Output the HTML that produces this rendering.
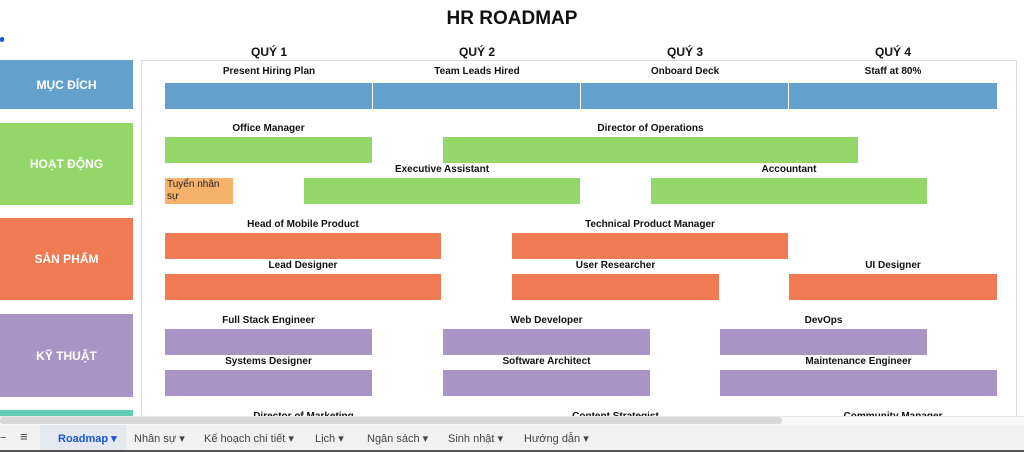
<!DOCTYPE html>
<html><head><meta charset="utf-8"><style>
*{margin:0;padding:0;box-sizing:border-box}
body{width:1024px;height:452px;overflow:hidden;background:#fff;font-family:"Liberation Sans",sans-serif;position:relative}
.a{position:absolute}
.l{position:absolute;left:0;width:133px;color:#fff;font-weight:bold;font-size:12px;display:flex;align-items:center;justify-content:center}
.t{position:absolute;font-size:10px;font-weight:bold;color:#111;text-align:center;white-space:nowrap}
.q{position:absolute;font-size:12px;font-weight:bold;color:#111;text-align:center;width:208px;top:45px}
.b{position:absolute;height:26px}
.bl{background:#63a1cc}.g{background:#93d769}.o{background:#f07b53}.p{background:#a995c5}
.tab{position:absolute;top:432px;font-size:11px;color:#444}
</style></head><body>
<div class="a" style="left:0;top:37px;width:4px;height:5px;background:#1a56d6;border-radius:2px"></div>
<div class="a" style="left:0;top:8px;width:1024px;text-align:center;font-size:19px;font-weight:bold;color:#111">HR ROADMAP</div>
<div class="q" style="left:165px">QUÝ 1</div>
<div class="q" style="left:373px">QUÝ 2</div>
<div class="q" style="left:581px">QUÝ 3</div>
<div class="q" style="left:789px">QUÝ 4</div>

<div class="l" style="top:60px;height:49px;background:#63a1cc">MỤC ĐÍCH</div>
<div class="l" style="top:123px;height:82px;background:#93d769">HOẠT ĐỘNG</div>
<div class="l" style="top:218px;height:82px;background:#f07b53">SẢN PHẨM</div>
<div class="l" style="top:314px;height:83px;background:#a995c5">KỸ THUẬT</div>
<div class="a" style="left:0;top:410px;width:133px;height:7px;background:#5fcdb4"></div>

<div class="a" style="left:141px;top:60px;width:876px;height:360px;border-left:1px solid #ddd;border-top:1px solid #ddd;border-right:1px solid #ddd"></div>

<div class="t" style="left:165px;width:208px;top:66px">Present Hiring Plan</div>
<div class="t" style="left:373px;width:208px;top:66px">Team Leads Hired</div>
<div class="t" style="left:581px;width:208px;top:66px">Onboard Deck</div>
<div class="t" style="left:789px;width:208px;top:66px">Staff at 80%</div>
<div class="b bl" style="left:165px;top:83px;width:207px"></div>
<div class="b bl" style="left:373px;top:83px;width:207px"></div>
<div class="b bl" style="left:581px;top:83px;width:207px"></div>
<div class="b bl" style="left:789px;top:83px;width:208px"></div>

<div class="t" style="left:165px;width:207px;top:123px">Office Manager</div>
<div class="b g" style="left:165px;top:137px;width:207px"></div>
<div class="t" style="left:443px;width:415px;top:123px">Director of Operations</div>
<div class="b g" style="left:443px;top:137px;width:415px"></div>
<div class="b" style="left:165px;top:178px;width:68px;background:#f6b26b;font-size:10px;color:#222;padding:1px 2px;line-height:12px">Tuyển nhân<br>sự</div>
<div class="t" style="left:304px;width:276px;top:164px">Executive Assistant</div>
<div class="b g" style="left:304px;top:178px;width:276px"></div>
<div class="t" style="left:651px;width:276px;top:164px">Accountant</div>
<div class="b g" style="left:651px;top:178px;width:276px"></div>

<div class="t" style="left:165px;width:276px;top:219px">Head of Mobile Product</div>
<div class="b o" style="left:165px;top:233px;width:276px"></div>
<div class="t" style="left:512px;width:276px;top:219px">Technical Product Manager</div>
<div class="b o" style="left:512px;top:233px;width:276px"></div>
<div class="t" style="left:165px;width:276px;top:260px">Lead Designer</div>
<div class="b o" style="left:165px;top:274px;width:276px"></div>
<div class="t" style="left:512px;width:207px;top:260px">User Researcher</div>
<div class="b o" style="left:512px;top:274px;width:207px"></div>
<div class="t" style="left:789px;width:208px;top:260px">UI Designer</div>
<div class="b o" style="left:789px;top:274px;width:208px"></div>

<div class="t" style="left:165px;width:207px;top:315px">Full Stack Engineer</div>
<div class="b p" style="left:165px;top:329px;width:207px"></div>
<div class="t" style="left:443px;width:207px;top:315px">Web Developer</div>
<div class="b p" style="left:443px;top:329px;width:207px"></div>
<div class="t" style="left:720px;width:207px;top:315px">DevOps</div>
<div class="b p" style="left:720px;top:329px;width:207px"></div>
<div class="t" style="left:165px;width:207px;top:356px">Systems Designer</div>
<div class="b p" style="left:165px;top:370px;width:207px"></div>
<div class="t" style="left:443px;width:207px;top:356px">Software Architect</div>
<div class="b p" style="left:443px;top:370px;width:207px"></div>
<div class="t" style="left:720px;width:277px;top:356px">Maintenance Engineer</div>
<div class="b p" style="left:720px;top:370px;width:277px"></div>

<div class="t" style="left:200px;width:207px;top:411px">Director of Marketing</div>
<div class="t" style="left:512px;width:207px;top:411px">Content Strategist</div>
<div class="t" style="left:789px;width:208px;top:411px">Community Manager</div>

<div class="a" style="left:0;top:416px;width:1024px;height:9px;background:#f8f8f8;border-top:1px solid #e6e6e6"></div>
<div class="a" style="left:0;top:417px;width:782px;height:7px;background:#d8d8d8;border-radius:3px"></div>
<div class="a" style="left:0;top:425px;width:1024px;height:27px;background:#f1f1f1;border-bottom:2px solid #555"></div>
<div class="a" style="left:40px;top:425px;width:86px;height:25px;background:#e3e8f1"></div>
<div class="tab" style="left:0">−</div>
<div class="tab" style="left:20px;font-size:13px;top:429px">≡</div>
<div class="tab" style="left:58px;color:#1a56d6;font-weight:bold">Roadmap ▾</div>
<div class="tab" style="left:134px">Nhân sự ▾</div>
<div class="tab" style="left:204px">Kế hoạch chi tiết ▾</div>
<div class="tab" style="left:315px">Lịch ▾</div>
<div class="tab" style="left:367px">Ngân sách ▾</div>
<div class="tab" style="left:448px">Sinh nhật ▾</div>
<div class="tab" style="left:524px">Hướng dẫn ▾</div>
</body></html>
